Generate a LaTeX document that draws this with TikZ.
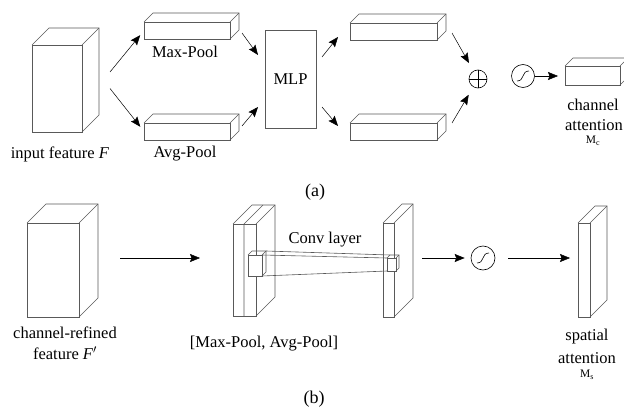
\documentclass[tikz,border=0pt]{standalone}
\usepackage{fontspec}
\setmainfont{Liberation Serif}
\usepackage{tikz}
\usetikzlibrary{calc,arrows.meta}

\newcommand{\lbfont}{\rmfamily\fontsize{16.5}{20}\selectfont}
\newcommand{\subfont}{\rmfamily\fontsize{11.5}{12}\selectfont}

% box seen from the front: name, x, y (front top left), width, height, depth
\newcommand{\cuboid}[6]{%
  \node[face, minimum width=#4pt, minimum height=#5pt, anchor=north west] (#1) at (#2,#3) {};
  \draw[edge] (#1.north west) -- ++(#6,-#6) -- ++(#4,0) -- ++(0,#5) -- (#1.south east);
  \draw[edge] (#1.north east) -- ++(#6,-#6);
}

\begin{document}
\begin{tikzpicture}[x=1pt,y=-1pt,
    face/.style={draw=black!65, fill=white, line width=0.6pt, inner sep=0pt, outer sep=0pt},
    edge/.style={draw=black!65, line width=0.6pt},
    arr/.style={-{Stealth[length=10pt,width=8pt,inset=1.5pt]}, line width=0.5pt},
    ring/.style={circle, draw, line width=0.6pt, inner sep=0pt},
    lbl/.style={font=\lbfont, inner sep=0pt, align=center}]
  \useasboundingbox (0,0) rectangle (624,412);

  % (a) channel attention
  \cuboid{Fin}{32}{45}{50}{87}{17}
  \cuboid{mp}{144}{22}{86}{17}{9}
  \cuboid{ap}{144}{123}{86}{17}{9}
  \node[face, minimum width=51pt, minimum height=98pt, anchor=north west, font=\lbfont] (mlp) at (265,30) {MLP};
  \cuboid{mo1}{350}{23}{87}{17}{9}
  \cuboid{mo2}{350}{123}{87}{17}{9}
  \node[ring, minimum size=18pt] (op) at (478,79) {};
  \draw[line width=0.6pt] (op.north) -- (op.south) (op.west) -- (op.east);
  \node[ring, minimum size=23pt] (sg1) at (523,76) {};
  \draw[line width=0.6pt] ($(sg1)+(-6,5)$) .. controls ($(sg1)+(2,5)$) and ($(sg1)+(-2,-5)$) .. ($(sg1)+(6,-5)$);
  \cuboid{mc}{565}{66}{55}{19}{8}

  \node[lbl] (lin) at (60,154) {input feature \textit{F}};
  \node[lbl] (lmp) at (185,52) {Max-Pool};
  \node[lbl] (lap) at (185,154) {Avg-Pool};
  \node[lbl] (lmc) at (593,105) {channel};
  \node[lbl] (lmc2) at (594,125) {attention};
  \node[font=\subfont, inner sep=0pt] (lmc3) at (593,141) {M\textsubscript{c}};
  \node[font=\rmfamily\fontsize{18}{20}\selectfont, inner sep=0pt] (la) at (315,192) {(a)};

  \draw[arr, shorten >=6pt] ($(Fin.east)+(28,-16.5)$) -- (mp.west);
  \draw[arr, shorten >=6pt] ($(Fin.east)+(28,0)$) -- (ap.west);
  \draw[arr] ($(mp.east)+(12,2.5)$) -- ($(mlp.west)+(-7,-24)$);
  \draw[arr] ($(ap.east)+(12,-5.5)$) -- ($(mlp.west)+(-7,28)$);
  \draw[arr] ($(mlp.east)+(6,-22)$) -- ($(mo1.west)+(-12,5.5)$);
  \draw[arr] ($(mlp.east)+(6,28)$) -- ($(mo2.west)+(-12,-5.5)$);
  \draw[arr, shorten >=9pt] ($(mo1.east)+(15,1.5)$) -- (op);
  \draw[arr, shorten >=9pt] ($(mo2.east)+(15,-8.5)$) -- (op);
  \draw[arr, shorten >=7pt] (sg1.east) -- (sg1.east -| mc.west);

  % (b) spatial attention
  \cuboid{Fref}{27}{223}{52}{94}{19}
  \cuboid{pb}{233}{224}{23}{92}{19}
  \draw[edge] ($(pb.south west)+(11,0)$) -- ($(pb.north west)+(11,0)$) -- ++(19,-19);
  \cuboid{cs}{383}{223}{11}{94}{19}
  \cuboid{kl}{248}{255}{14}{21}{4}
  \cuboid{kr}{387}{258}{9}{13}{3}
  \draw[edge] ($(kl.north east)+(4,-4)$) -- ($(kr.north west)+(3,-3)$);
  \draw[edge] (kl.north east) -- (kr.north west);
  \draw[edge] (kl.south east) -- (kr.south west);
  \node[ring, minimum size=24pt] (sg2) at (483,258) {};
  \draw[line width=0.6pt] ($(sg2)+(-6,5)$) .. controls ($(sg2)+(2,5)$) and ($(sg2)+(-2,-5)$) .. ($(sg2)+(6,-5)$);
  \cuboid{ms}{578}{223}{12}{94}{17}

  \node[lbl] (lref) at (65,333) {channel-refined};
  \node[lbl] (lref2) at (65,353) {feature \textit{F}$'$};
  \node[lbl] (lconv) at (325,240) {Conv layer};
  \node[lbl] (lpool) at (264,344) {[Max-Pool, Avg-Pool]};
  \node[lbl] (lms) at (587,337) {spatial};
  \node[lbl] (lms2) at (587,358) {attention};
  \node[font=\subfont, inner sep=0pt] (lms3) at (587,375) {M\textsubscript{s}};
  \node[font=\rmfamily\fontsize{18}{20}\selectfont, inner sep=0pt] (lb) at (314,399) {(b)};

  \draw[arr] ($(Fref.east)+(41,-12)$) -- ($(pb.west)+(-33,-12)$);
  \draw[arr, shorten >=6pt] ($(cs.east)+(28,-12)$) -- (sg2);
  \draw[arr, shorten <=13pt] (sg2) -- ($(ms.west)+(-8,-12)$);
\end{tikzpicture}
\end{document}
